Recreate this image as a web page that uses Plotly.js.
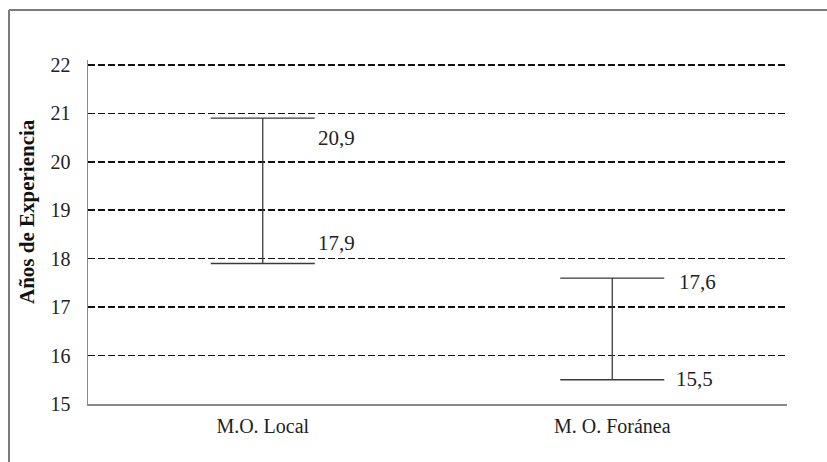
<!DOCTYPE html>
<html>
<head>
<meta charset="utf-8">
<script src="https://cdn.plot.ly/plotly-3.0.1.min.js"></script>
<style>
html,body{margin:0;padding:0;background:#fff;overflow:hidden;}
#chart{position:absolute;left:0;top:0;width:827px;height:462px;}
</style>
</head>
<body>
<div id="chart"></div>
<script>
var categories = ["M.O. Local", "M. O. Foránea"];
var highValues = [20.9, 17.6];
var lowValues = [17.9, 15.5];
var yTicks = [15, 16, 17, 18, 19, 20, 21, 22];
var yTitle = "Años de Experiencia";

function fmt(v){ return v.toFixed(1).replace('.', ','); }

var trace = {
  type: 'scatter',
  mode: 'markers',
  x: categories,
  y: highValues,
  marker: {size: 0.1, color: 'rgba(0,0,0,0)'},
  error_y: {
    type: 'data',
    symmetric: false,
    array: highValues.map(function(){return 0;}),
    arrayminus: highValues.map(function(h,i){return h - lowValues[i];}),
    width: 52,
    thickness: 1.3,
    color: '#3a3a3a'
  },
  hoverinfo: 'skip',
  showlegend: false
};

var annOffsets = [
  {hx: 74, hy: -20, lx: 74, ly: 20},
  {hx: 85, hy: -4, lx: 82, ly: 1}
];
var annotations = [];
categories.forEach(function(c, i){
  annotations.push({x: c, y: highValues[i], text: fmt(highValues[i]), showarrow: false,
    xshift: annOffsets[i].hx, yshift: annOffsets[i].hy, font: {family: 'Liberation Serif', size: 21, color: '#222'}});
  annotations.push({x: c, y: lowValues[i], text: fmt(lowValues[i]), showarrow: false,
    xshift: annOffsets[i].lx, yshift: annOffsets[i].ly, font: {family: 'Liberation Serif', size: 21, color: '#222'}});
});
annotations.push({xref: 'paper', yref: 'paper', x: 0, y: 0.5, xshift: -61, yshift: 20,
  xanchor: 'center', yanchor: 'middle',
  text: '<b>' + yTitle + '</b>', textangle: -90, showarrow: false,
  font: {family: 'Liberation Serif', size: 21, color: '#111'}});

var layout = {
  width: 827, height: 462,
  margin: {l: 88, r: 40, t: 60, b: 58},
  paper_bgcolor: '#fff', plot_bgcolor: '#fff',
  showlegend: false,
  xaxis: {
    type: 'category', range: [-0.5, 1.5],
    showgrid: false, zeroline: false,
    showline: true, linecolor: '#8a8a8a', linewidth: 1.5,
    ticks: '', ticklabelstandoff: 3,
    tickfont: {family: 'Liberation Serif', size: 20, color: '#222'},
    fixedrange: true
  },
  yaxis: {
    range: [15, 22.1],
    tickvals: yTicks, ticktext: yTicks.map(String),
    showgrid: true, gridcolor: '#111', griddash: '7px,3px', gridwidth: 1.6,
    zeroline: false,
    showline: true, linecolor: '#8a8a8a', linewidth: 1.5,
    ticks: '', ticklabelstandoff: 12,
    tickfont: {family: 'Liberation Serif', size: 20, color: '#222'},
    fixedrange: true
  },
  shapes: [
    {type: 'line', xref: 'paper', yref: 'paper', x0: -0.113, x1: -0.113, y0: -0.3, y1: 1.1453, line: {color: '#7a7a7a', width: 2}},
    {type: 'line', xref: 'paper', yref: 'paper', x0: -0.113, x1: 1.2, y0: 1.1453, y1: 1.1453, line: {color: '#7a7a7a', width: 2}}
  ],
  annotations: annotations
};

Plotly.newPlot('chart', [trace], layout, {displayModeBar: false, staticPlot: true});
</script>
</body>
</html>
